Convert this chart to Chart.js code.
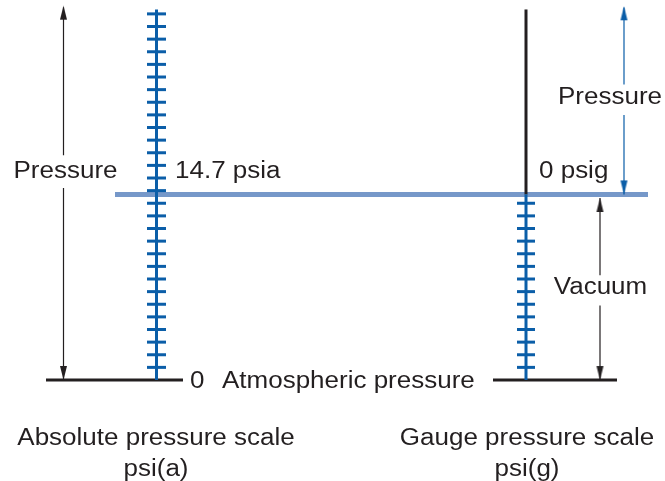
<!DOCTYPE html>
<html>
<head>
<meta charset="utf-8">
<script src="https://cdn.jsdelivr.net/npm/chart.js@4.4.1/dist/chart.umd.min.js"></script>
<style>
  html,body{margin:0;padding:0;background:#fff;overflow:hidden}
  canvas{display:block}
</style>
</head>
<body>
<canvas id="c" width="665" height="481"></canvas>
<script>
// values, in psi
const absTicks = [1,2,3,4,5,6,7,8,9,10,11,12,13,14,15,16,17,18,19,20,21,22,23,24,25,26,27,28,29];
const gaugeTicks = [1,2,3,4,5,6,7,8,9,10,11,12,13,14];
const atmPsia = 14.7;
const scaleTop = 29.35;
const arrowTop = 29.5;
const vacTop = 14.42;
const scaleNames = ['Absolute pressure scale', 'Gauge pressure scale'];
const unitNames = ['psi(a)', 'psi(g)'];

// layout (x in page units, y in psi)
const X = { pArrow:63.5, abs:156.5, gauge:526, pArrowR:624, vacArrow:600,
            bandL:115, bandR:648, baseL:[46,183], baseR:[493,617] };
const BLUE='#0b5ea8', BAND='#7698c9', INK='#231f20';

const texts = [
  {t:'Pressure', x:65.5, y:16.63, a:'center'},
  {t:atmPsia+' psia', x:175, y:16.63, a:'left'},
  {t:'0 psig', x:539, y:16.63, a:'left'},
  {t:'Pressure', x:610, y:22.5, a:'center'},
  {t:'Vacuum', x:600.5, y:7.45, a:'center'},
  {t:'0', x:190, y:0, a:'left'},
  {t:'Atmospheric pressure', x:222, y:0, a:'left'},
  {t:scaleNames[0], x:156, y:-4.5, a:'center'},
  {t:unitNames[0], x:156, y:-6.95, a:'center'},
  {t:scaleNames[1], x:527, y:-4.5, a:'center'},
  {t:unitNames[1], x:527, y:-6.95, a:'center'}
];

function head(dir, color){
  const c=document.createElement('canvas'); c.width=9; c.height=30;
  const g=c.getContext('2d'); g.fillStyle=color; g.beginPath();
  if(dir==='up'){ g.moveTo(4.5,15); g.lineTo(1,29); g.lineTo(8,29); }
  else { g.moveTo(4.5,15); g.lineTo(1,1); g.lineTo(8,1); }
  g.closePath(); g.fill(); return c;
}

function seg(x1,y1,x2,y2,color,w,order=1){
  return { type:'line', data:[{x:x1,y:y1},{x:x2,y:y2}], borderColor:color, borderWidth:w,
           pointRadius:0, fill:false, order, borderCapStyle:'butt' };
}
function heads(pts, color){
  return { type:'scatter', data:pts.map(p=>({x:p[0],y:p[1]})),
           pointStyle:pts.map(p=>head(p[2],color)), pointRadius:8, order:0 };
}

const datasets = [
  seg(X.bandL, atmPsia, X.bandR, atmPsia, BAND, 5, 10),
  seg(X.abs, 0, X.abs, scaleTop, BLUE, 3),
  seg(X.gauge, 0, X.gauge, atmPsia, BLUE, 3),
  seg(X.gauge, atmPsia, X.gauge, scaleTop, INK, 3),
  seg(X.baseL[0], 0, X.baseL[1], 0, INK, 3, 2),
  seg(X.baseR[0], 0, X.baseR[1], 0, INK, 3, 2),
  { type:'scatter', data:absTicks.map(v=>({x:X.abs,y:v})), pointStyle:'line', pointRadius:9.5,
    borderColor:BLUE, borderWidth:3, order:1 },
  { type:'scatter', data:gaugeTicks.map(v=>({x:X.gauge,y:v})), pointStyle:'line', pointRadius:9,
    borderColor:BLUE, borderWidth:3, order:1 },
  // arrows
  seg(X.pArrow, arrowTop, X.pArrow, 17.8, INK, 1.2),
  seg(X.pArrow, 15.2, X.pArrow, 0, INK, 1.2),
  heads([[X.pArrow, arrowTop+0.15, 'up'], [X.pArrow, 0, 'down']], INK),
  seg(X.pArrowR, arrowTop, X.pArrowR, 23.4, BLUE, 1.2),
  seg(X.pArrowR, 21.0, X.pArrowR, atmPsia, BLUE, 1.2),
  heads([[X.pArrowR, arrowTop+0.1, 'up'], [X.pArrowR, atmPsia, 'down']], BLUE),
  seg(X.vacArrow, vacTop, X.vacArrow, 8.3, INK, 1.2),
  seg(X.vacArrow, 5.9, X.vacArrow, 0, INK, 1.2),
  heads([[X.vacArrow, vacTop, 'up'], [X.vacArrow, 0, 'down']], INK)
];

const labelPlugin = {
  id:'labels',
  afterDatasetsDraw(chart){
    const {ctx, scales:{x, y}} = chart;
    ctx.save();
    ctx.font = '23px "Liberation Sans", Arial, sans-serif';
    ctx.fillStyle = INK; ctx.textBaseline = 'middle';
    for (const l of texts){
      ctx.save();
      ctx.translate(x.getPixelForValue(l.x), y.getPixelForValue(l.y) + 2);
      ctx.scale(1.13, 1);
      ctx.textAlign = l.a;
      ctx.fillText(l.t, 0, 0);
      ctx.restore();
    }
    ctx.restore();
  }
};

new Chart(document.getElementById('c'), {
  data: { datasets: datasets.map(d=>Object.assign({clip:false}, d)) },
  options: {
    responsive:false, animation:false, events:[],
    layout:{ padding:0, autoPadding:false },
    plugins:{ legend:{display:false}, tooltip:{enabled:false} },
    scales:{
      x:{ type:'linear', min:0, max:665, display:false },
      y:{ type:'linear', min:-8, max:30.1, display:false }
    }
  },
  plugins:[labelPlugin]
});
</script>
</body>
</html>
